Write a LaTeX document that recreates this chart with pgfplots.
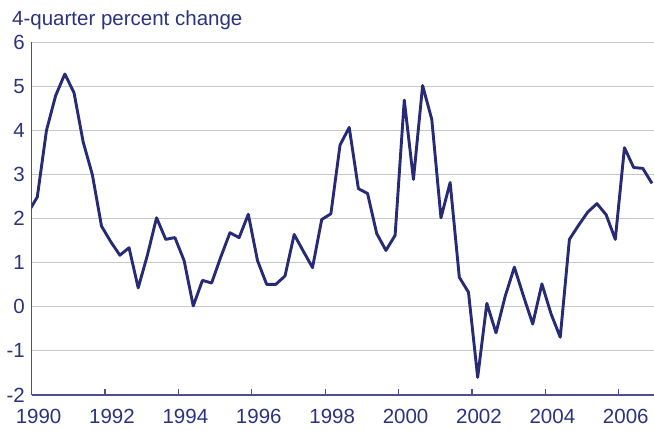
\documentclass[border=0pt]{standalone}
\usepackage{pgfplots}
\pgfplotsset{compat=1.18}
\usepackage{fontspec}
\setmainfont{Liberation Sans}
\definecolor{linecol}{HTML}{272A75}
\definecolor{labcol}{HTML}{2B3380}
\definecolor{axcol}{HTML}{4B4F8F}
\definecolor{gridcol}{HTML}{C8C8C8}
\begin{document}
\begin{tikzpicture}
\begin{axis}[
  scale only axis, width=622.4pt, height=352.7pt,
  xmin=1990, xmax=2006.96, ymin=-2, ymax=6,
  axis x line*=bottom, axis y line*=left,
  axis line style={color=axcol, line width=1.6pt},
  xtick={1990,1992,1994,1996,1998,2000,2002,2004,2006},
  xticklabels={1990,1992,1994,1996,1998,2000,2002,2004,2006},
  ytick={-2,-1,0,1,2,3,4,5,6},
  yticklabels={-2,-1,0,1,2,3,4,5,6},
  ymajorgrids, grid style={color=gridcol, line width=1pt},
  tick align=inside,
  x tick style={color=axcol, line width=1.2pt},
  major tick length=6pt,
  y tick style={draw=none},
  xticklabel style={anchor=north, inner sep=0pt, yshift=-14pt, xshift=7pt},
  yticklabel style={anchor=east, inner sep=0pt, xshift=-6.6pt},
  tick label style={font=\fontsize{20.5}{24}\selectfont, text=labcol},
]
\addplot[color=linecol, line width=2.9pt, line join=round, no marks] table {
x y
1989.905 2.14
1990.155 2.49
1990.405 4.00
1990.655 4.79
1990.905 5.28
1991.155 4.86
1991.405 3.74
1991.655 3.00
1991.905 1.83
1992.155 1.48
1992.405 1.17
1992.655 1.34
1992.905 0.43
1993.155 1.17
1993.405 2.02
1993.655 1.53
1993.905 1.57
1994.155 1.05
1994.405 0.02
1994.655 0.60
1994.905 0.54
1995.155 1.13
1995.405 1.68
1995.655 1.57
1995.905 2.10
1996.155 1.05
1996.405 0.51
1996.655 0.51
1996.905 0.70
1997.155 1.64
1997.405 1.26
1997.655 0.89
1997.905 1.98
1998.155 2.11
1998.405 3.67
1998.655 4.07
1998.905 2.68
1999.155 2.57
1999.405 1.66
1999.655 1.28
1999.905 1.62
2000.155 4.69
2000.405 2.89
2000.655 5.02
2000.905 4.25
2001.155 2.02
2001.405 2.82
2001.655 0.67
2001.905 0.33
2002.155 -1.60
2002.405 0.08
2002.655 -0.59
2002.905 0.24
2003.155 0.90
2003.405 0.24
2003.655 -0.39
2003.905 0.52
2004.155 -0.16
2004.405 -0.69
2004.655 1.53
2004.905 1.85
2005.155 2.15
2005.405 2.34
2005.655 2.09
2005.905 1.53
2006.155 3.61
2006.405 3.16
2006.655 3.14
2006.905 2.80
};
\coordinate (bl) at (rel axis cs:0,0);
\coordinate (tr) at (rel axis cs:1,1);
\coordinate (tl) at (rel axis cs:0,1);
\end{axis}
\node[anchor=base west, inner sep=0pt, font=\fontsize{20.5}{24}\selectfont, text=labcol] at ([xshift=-19.6pt,yshift=16.3pt]tl) {4-quarter percent change};
\pgfresetboundingbox
\path[use as bounding box] ([xshift=-31.6pt,yshift=-36pt]bl) rectangle ([yshift=42.3pt]tr);
\end{tikzpicture}
\end{document}
